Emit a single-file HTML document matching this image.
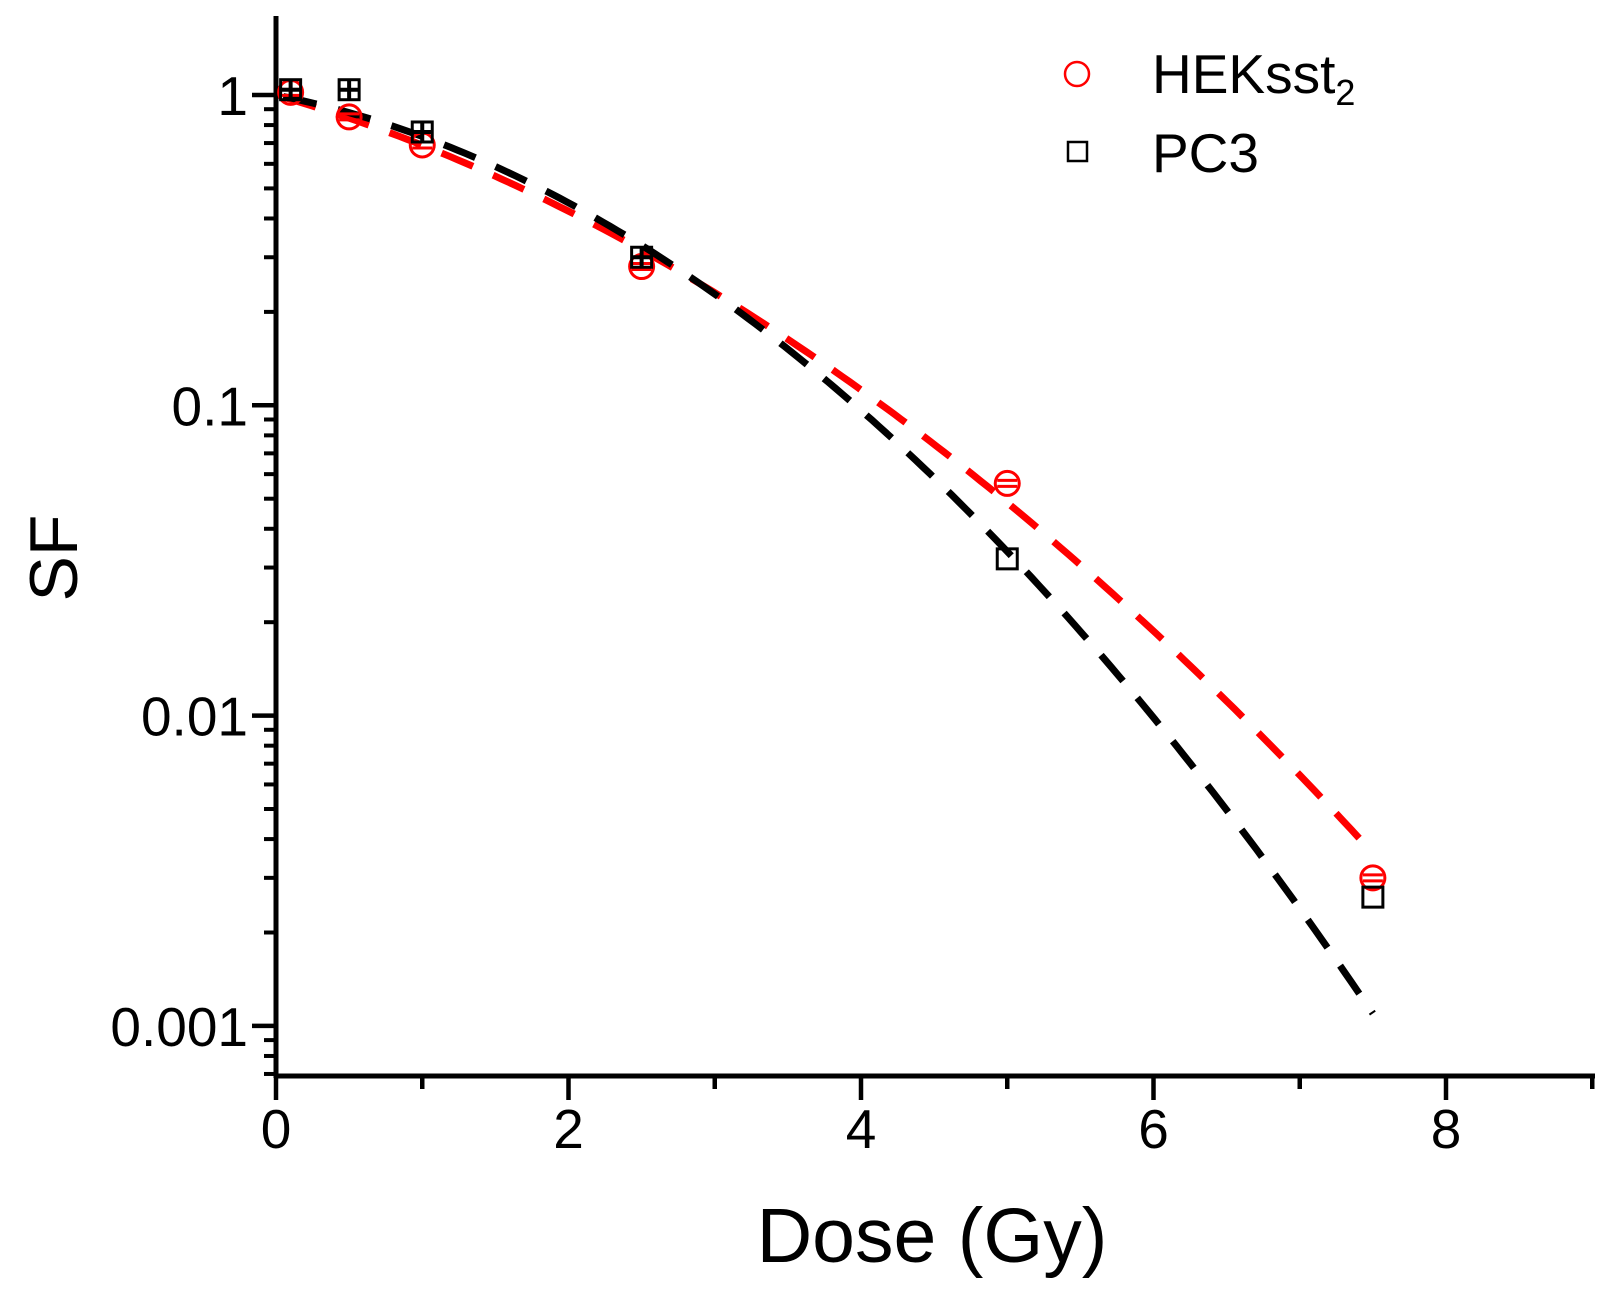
<!DOCTYPE html>
<html><head><meta charset="utf-8"><style>
html,body{margin:0;padding:0;background:#fff;}
svg{display:block;font-family:"Liberation Sans",Arial,sans-serif;}
</style></head><body>
<svg id="chart" width="1613" height="1299" viewBox="0 0 1613 1299">
<g id="axes"></g>
<g id="fits"></g>
<g id="marks"></g>
<text x="54" y="558" font-size="68" text-anchor="middle" transform="rotate(-90 54 558)" dominant-baseline="central">SF</text>
<text x="932" y="1262" font-size="77" text-anchor="middle">Dose (Gy)</text>
<g>
<circle cx="1077" cy="74" r="12" fill="none" stroke="#ff0000" stroke-width="2.5"/>
<text x="1152" y="93" font-size="55">HEKsst<tspan font-size="36" dy="12">2</tspan></text>
<rect x="1068" y="142" width="19" height="19" fill="none" stroke="#000" stroke-width="2.5"/>
<text x="1152" y="172" font-size="55">PC3</text>
</g>
</svg>
<script>
const doses = [0.1, 0.5, 1, 2.5, 5, 7.5];
const hekSF = [1.02, 0.85, 0.69, 0.28, 0.056, 0.003];
const pc3SF = [1.04, 1.04, 0.76, 0.30, 0.032, 0.0026];
const hekFit = [0.315, 0.058];
const pc3Fit = [0.215, 0.0925];
const xTicks = [0, 2, 4, 6, 8];
const yTicks = [1, 0.1, 0.01, 0.001];
const yTickLabels = ["1", "0.1", "0.01", "0.001"];

const NS = "http://www.w3.org/2000/svg";
const X0 = 276, XPER = 146.25, Y1 = 95, DEC = 310.3;
const xs = d => X0 + d * XPER;
const ys = v => Y1 - Math.log10(v) * DEC;
const axisBottom = 1076, axisTop = 16, axisRight = 1595;

function mk(tag, attrs, parent) {
  const e = document.createElementNS(NS, tag);
  for (const k in attrs) e.setAttribute(k, attrs[k]);
  parent.appendChild(e);
  return e;
}
const axes = document.getElementById('axes');
let e = mk('line', {x1: X0, y1: axisTop, x2: X0, y2: axisBottom + 2, stroke: '#000', 'stroke-width': 5}, axes);


e = mk('line', {x1: X0 - 2, y1: axisBottom, x2: axisRight, y2: axisBottom, stroke: '#000', 'stroke-width': 5}, axes);



for (let i = 0; i <= 9; i++) {
  const major = i % 2 === 0;
  e = mk('line', {x1: xs(i), y1: axisBottom, x2: xs(i), y2: axisBottom + (major ? 24 : 13), stroke: '#000', 'stroke-width': 4.5}, axes);
  
  
}
xTicks.forEach(t => {
  const tx = mk('text', {x: xs(t), y: 1148, 'font-size': 55, 'text-anchor': 'middle'}, axes);
  tx.textContent = t;
  
  
});
yTicks.forEach((t, i) => {
  e = mk('line', {x1: X0 - 24, y1: ys(t), x2: X0, y2: ys(t), stroke: '#000', 'stroke-width': 4.5}, axes);
  
  
  const tx = mk('text', {x: X0 - 28, y: ys(t) + 20, 'font-size': 55, 'text-anchor': 'end'}, axes);
  tx.textContent = yTickLabels[i];
  
  
});
for (let dec = -4; dec <= 0; dec++) {
  for (let m = 2; m <= 9; m++) {
    const v = m * Math.pow(10, dec);
    const y = ys(v);
    if (y < axisTop || y > axisBottom) continue;
    e = mk('line', {x1: X0 - 12, y1: y, x2: X0, y2: y, stroke: '#000', 'stroke-width': 4}, axes);
    
    
  }
}

const fits = document.getElementById('fits');
function fitPath(p, color, name) {
  let d = '';
  for (let i = 0; i <= 150; i++) {
    const D = 0.05 + (7.5 - 0.05) * i / 150;
    const v = Math.exp(-p[0] * D - p[1] * D * D);
    d += (i ? 'L' : 'M') + xs(D).toFixed(1) + ',' + ys(v).toFixed(1);
  }
  const el = mk('path', {d: d, fill: 'none', stroke: color, 'stroke-width': 7, 'stroke-dasharray': '34 22'}, fits);
  
  
}
fitPath(hekFit, '#ff0000', 'heksst2-fit-line');
fitPath(pc3Fit, '#000000', 'pc3-fit-line');

const marks = document.getElementById('marks');
doses.forEach((D, i) => {
  const cx = xs(D), cy = ys(hekSF[i]);
  const c = mk('circle', {cx: cx, cy: cy, r: 12, fill: 'none', stroke: '#ff0000', 'stroke-width': 3}, marks);
  
  
  const eb = mk('path', {d: `M${cx-10},${cy-3}H${cx+10}M${cx-10},${cy+3}H${cx+10}`, stroke: '#ff0000', 'stroke-width': 3}, marks);
  
  
});
doses.forEach((D, i) => {
  const cx = xs(D), cy = ys(pc3SF[i]);
  const r = mk('rect', {x: cx - 10, y: cy - 10, width: 20, height: 20, fill: 'none', stroke: '#000', 'stroke-width': 3}, marks);
  
  
  if (i < 4) {
    const eb = mk('path', {d: `M${cx},${cy-10}V${cy+10}M${cx-10},${cy}H${cx+10}`, stroke: '#000', 'stroke-width': 4}, marks);
    
    
  }
});
</script>
</body></html>
